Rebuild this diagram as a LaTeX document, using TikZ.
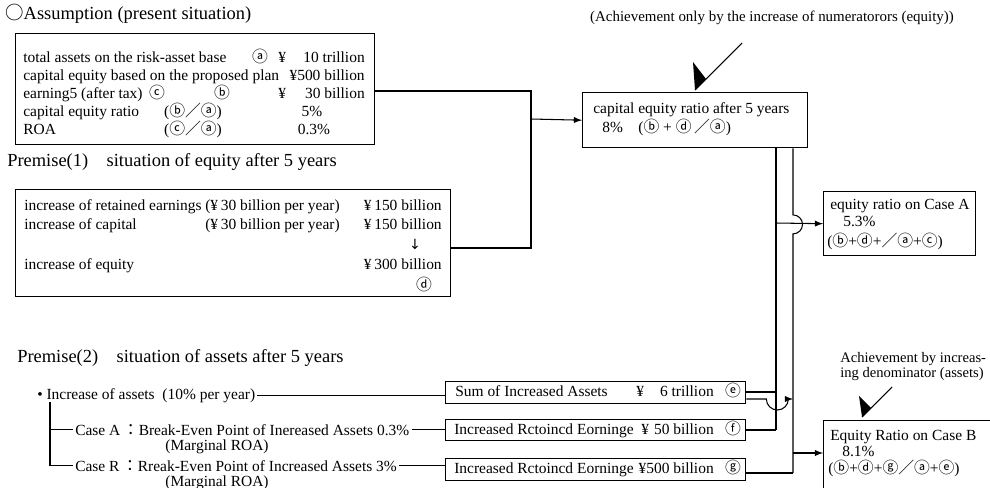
\documentclass[tikz,border=0pt]{standalone}
\usepackage{fontspec}
\setmainfont{Liberation Serif}
\newfontfamily\jpf{Noto Sans CJK JP}
\newfontfamily\symf{DejaVu Sans}
\newcommand{\encl}[1]{{\jpf\fontsize{9}{9}\selectfont #1}}

\begin{document}
\begin{tikzpicture}[x=0.02cm,y=-0.02cm,>=latex,line width=0.6pt,
  box/.style={draw, line width=0.8pt, anchor=north west, inner sep=0pt},
  txt/.style={inner sep=1pt, anchor=mid, font=\fontsize{8.8}{10}\selectfont},
  head/.style={inner sep=1pt, anchor=mid west, font=\fontsize{10.5}{12}\selectfont}]

\useasboundingbox (0,0) rectangle (990,487);

% assumption
\node[head] (hA) at (3,15) {{\jpf ○}Assumption (present situation)};
\node[box, minimum width=7.18cm, minimum height=2.22cm] (boxA) at (15,33) {};
\node[txt, anchor=mid west] (a1) at (21,58) {total assets on the risk-asset base};
\node[txt] (a1c) at (260,58) {\encl{ⓐ}};
\node[txt, anchor=mid west] (a1y) at (276,58) {¥};
\node[txt, anchor=mid east] (a1v) at (367,58) {10 trillion};
\node[txt, anchor=mid west] (a2) at (21,76) {capital equity based on the proposed plan};
\node[txt, anchor=mid east] (a2v) at (367,76) {¥500 billion};
\node[txt, anchor=mid west] (a3) at (21,94) {earning5 (after tax)};
\node[txt] (a3c) at (157,94) {\encl{ⓒ}};
\node[txt] (a3b) at (222,94) {\encl{ⓑ}};
\node[txt, anchor=mid west] (a3y) at (276,94) {¥};
\node[txt, anchor=mid east] (a3v) at (367,94) {30 billion};
\node[txt, anchor=mid west] (a4) at (21,112) {capital equity ratio};
\node[txt] (a4f) at (193,112) {(\encl{ⓑ}\encl{／}\encl{ⓐ})};
\node[txt] (a4v) at (312,112) {5\%};
\node[txt, anchor=mid west] (a5) at (21,130) {ROA};
\node[txt] (a5f) at (193,130) {(\encl{ⓒ}\encl{／}\encl{ⓐ})};
\node[txt] (a5v) at (314,130) {0.3\%};

% premise 1
\node[head] (hB) at (5,162) {Premise(1)\quad situation of equity after 5 years};
\node[box, minimum width=8.70cm, minimum height=2.14cm] (boxB) at (15,189) {};
\node[txt, anchor=mid west] (b1) at (22,206) {increase of retained earnings};
\node[txt, anchor=mid east] (b1p) at (342,206) {(¥\,30 billion per year)};
\node[txt, anchor=mid east] (b1v) at (444,206) {¥\,150 billion};
\node[txt, anchor=mid west] (b2) at (22,225) {increase of capital};
\node[txt, anchor=mid east] (b2p) at (342,225) {(¥\,30 billion per year)};
\node[txt, anchor=mid east] (b2v) at (444,225) {¥\,150 billion};
\node[txt] (b2a) at (415,245) {\symf\fontsize{8}{8}\selectfont ↓};
\node[txt, anchor=mid west] (b3) at (22,265) {increase of equity};
\node[txt, anchor=mid east] (b3v) at (444,265) {¥\,300 billion};
\node[txt] (b3d) at (424,286) {\encl{ⓓ}};

% ratio after 5 years
\node[txt, font=\fontsize{8.5}{10}\selectfont] (noteC) at (772,17) {(Achievement only by the increase of numeratorors (equity))};
\node[box, minimum width=4.50cm, minimum height=1.10cm] (boxC) at (582,92) {};
\node[txt, anchor=mid west] (c1) at (591,109) {capital equity ratio after 5 years};
\node[txt, anchor=mid west] (c2) at (600,128) {8\%\quad(\encl{ⓑ} + \encl{ⓓ}\,\encl{／}\encl{ⓐ})};

% case A result
\node[box, minimum width=3.04cm, minimum height=1.28cm] (boxD) at (823,191) {};
\node[txt, anchor=mid west] (d1) at (828,205) {equity ratio on Case A};
\node[txt, anchor=mid west] (d2) at (841,222) {5.3\%};
\node[txt, anchor=mid west] (d3) at (825,242) {(\encl{ⓑ}+\encl{ⓓ}+\encl{／}\encl{ⓐ}+\encl{ⓒ})};

% premise 2
\node[head] (hC) at (15,358) {Premise(2)\quad situation of assets after 5 years};
\node[txt, anchor=mid west] (incr) at (35,395) {• Increase of assets\ \ (10\% per year)};
\node[txt, anchor=mid west] (caseA) at (73,431) {Case A\,\encl{：}Break-Even Point of Inereased Assets 0.3\%};
\node[txt] (roaA) at (217,446) {(Marginal ROA)};
\node[txt, anchor=mid west] (caseR) at (73,467) {Case R\,\encl{：}Rreak-Even Point of Increased Assets 3\%};
\node[txt] (roaR) at (217,482) {(Marginal ROA)};
\coordinate (t0) at (50,402);

\node[box, minimum width=6.00cm, minimum height=0.44cm] (boxE) at (445,381) {};
\node[txt, anchor=mid west] (e1) at (453,392) {Sum of Increased Assets};
\node[txt, anchor=mid west] (e1y) at (634,392) {¥};
\node[txt, anchor=mid east] (e1v) at (716,392) {6 trillion};
\node[txt] (e1c) at (733,392) {\encl{ⓔ}};
\node[box, minimum width=6.00cm, minimum height=0.42cm] (boxF) at (445,419) {};
\node[txt, anchor=mid west] (f1) at (452,430) {Increased Rctoincd Eorninge};
\node[txt, anchor=mid west] (f1y) at (639,430) {¥};
\node[txt, anchor=mid east] (f1v) at (716,430) {50 billion};
\node[txt] (f1c) at (733,430) {\encl{ⓕ}};
\node[box, minimum width=6.00cm, minimum height=0.44cm] (boxG) at (445,458) {};
\node[txt, anchor=mid west] (g1) at (452,469) {Increased Rctoincd Eorninge};
\node[txt, anchor=mid east] (g1v) at (716,469) {¥500 billion};
\node[txt] (g1c) at (733,469) {\encl{ⓖ}};

% case B result
\node[txt, anchor=mid west, font=\fontsize{8.3}{10}\selectfont] (noteH1) at (838,358) {Achievement by increas-};
\node[txt, anchor=mid west, font=\fontsize{8.3}{10}\selectfont] (noteH2) at (838,373) {ing denominator (assets)};
\node[box, minimum width=3.44cm, minimum height=1.50cm] (boxH) at (823,420) {};
\node[txt, anchor=mid west] (h1) at (828,436) {Equity Ratio on Case B};
\node[txt, anchor=mid west] (h2) at (840,452) {8.1\%};
\node[txt, anchor=mid west] (h3) at (826,469) {(\encl{ⓑ}+\encl{ⓓ}+\encl{ⓖ}\encl{／}\encl{ⓐ}+\encl{ⓔ})};

% junctions
\coordinate (jA) at (531,91);
\coordinate (jB) at (531,248);
\coordinate (jC) at (531,119);
\coordinate (lD) at (776,223);
\coordinate (lE) at (776,392);
\coordinate (lF) at (776,430);
\coordinate (rD) at (793,223);
\coordinate (rE) at (793,399);
\coordinate (rH) at (793,453);
\coordinate (rG) at (793,473);

\draw (boxA.east |- jA) -- (jA) -- (jB) -- (boxB.east |- jB);
\draw[->] (jC) -- (boxC.west);
\draw (lE |- boxC.south) -- (lF);
\draw (rD |- boxC.south) -- ++(0,66.5) arc[start angle=-90, end angle=90, radius=9.5] -- (rG);
\draw[->] (lD) -- (boxD.west);
\draw (boxE.east |- lE) -- (lE);
\draw[->] (boxE.east |- rE) -- ++(20,0) arc[start angle=180, end angle=0, radius=11] -- (rE);
\draw (boxF.east |- lF) -- (lF);
\draw (boxG.east |- rG) -- (rG);
\draw[->] (rH) -- (boxH.west |- rH);

\draw (incr.east) -- (incr.east -| boxE.west);
\draw (caseA.east) -- (caseA.east -| boxF.west);
\draw (caseR.east) -- (caseR.east -| boxG.west);
\draw (t0) |- (caseR.west);
\draw (t0 |- caseA.west) -- (caseA.west);

% check marks
\coordinate (ck1a) at (693,62);
\coordinate (ck1b) at (695,90);
\coordinate (ck1c) at (706,79);
\coordinate (ck1d) at (742,43);
\fill (ck1a) -- (ck1b) -- (ck1c) -- cycle;
\draw (ck1b) -- (ck1d);
\coordinate (ck2a) at (859,396);
\coordinate (ck2b) at (862,417);
\coordinate (ck2c) at (871,408);
\coordinate (ck2d) at (892,387);
\fill (ck2a) -- (ck2b) -- (ck2c) -- cycle;
\draw (ck2b) -- (ck2d);

\end{tikzpicture}
\end{document}
